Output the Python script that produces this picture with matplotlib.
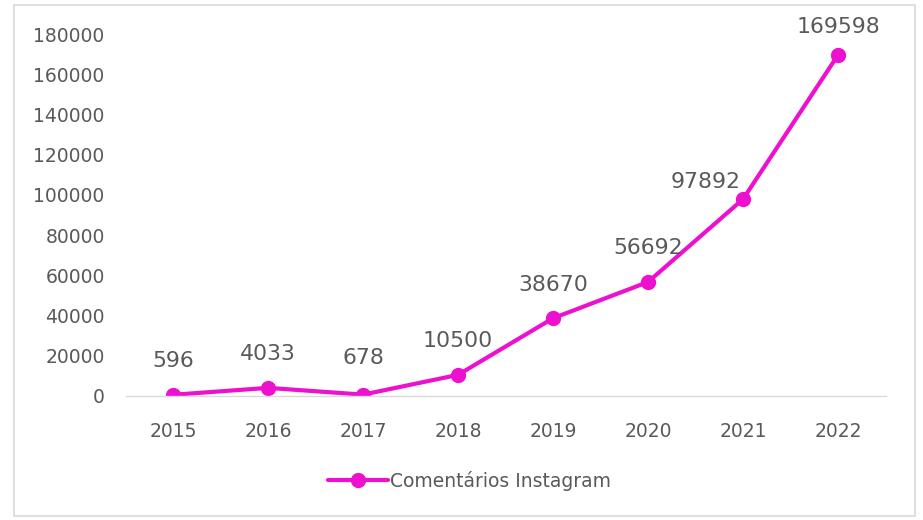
import matplotlib
matplotlib.use("Agg")
import matplotlib.pyplot as plt
from matplotlib.patches import Rectangle

# yearly Instagram comment counts
years = ["2015", "2016", "2017", "2018", "2019", "2020", "2021", "2022"]
comments = [596, 4033, 678, 10500, 38670, 56692, 97892, 169598]

pink = "#EE10CF"
grey = "#595959"

plt.rcParams["font.family"] = ["DejaVu Sans"]

fig = plt.figure(figsize=(9.23, 5.2), dpi=100)
ax = fig.add_axes([0.136, 0.2385, 0.8234, 0.696])

x = range(len(years))
ax.plot(x, comments, color=pink, lw=3, marker="o", ms=10,
        label="Comentários Instagram", solid_capstyle="round")

# value labels above each point (2021 nudged left, clear of the line)
offsets = [(0, 17), (0, 17), (0, 19), (0, 17), (0, 17), (0, 17), (-27, 5), (0, 13)]
for i, v in enumerate(comments):
    ax.annotate(str(v), (i, v), xytext=offsets[i], textcoords="offset points",
                ha="center", va="bottom", fontsize=15.8, color=grey)

ax.set_xlim(-0.5, len(years) - 0.5)
ax.set_ylim(0, 180000)
ax.set_yticks(range(0, 180001, 20000))
ax.set_xticks(list(x))
ax.set_xticklabels(years)

for s in ["top", "right", "left"]:
    ax.spines[s].set_visible(False)
ax.spines["bottom"].set_color("#D9D9D9")
ax.spines["bottom"].set_linewidth(1)
ax.tick_params(axis="both", length=0, colors=grey, labelsize=13.5)
ax.tick_params(axis="y", pad=15)
ax.tick_params(axis="x", pad=19)

fig.legend(loc="center", bbox_to_anchor=(0.509, 0.075), frameon=False,
           fontsize=13.5, labelcolor=grey, handlelength=3.2, handletextpad=0.1)

# light frame round the whole chart
fig.patches.append(Rectangle((14 / 923, 4 / 520), 901 / 923, 511 / 520,
                             transform=fig.transFigure, fill=False,
                             edgecolor="#D9D9D9", lw=1.2))

fig.savefig("out.png", dpi=100)
